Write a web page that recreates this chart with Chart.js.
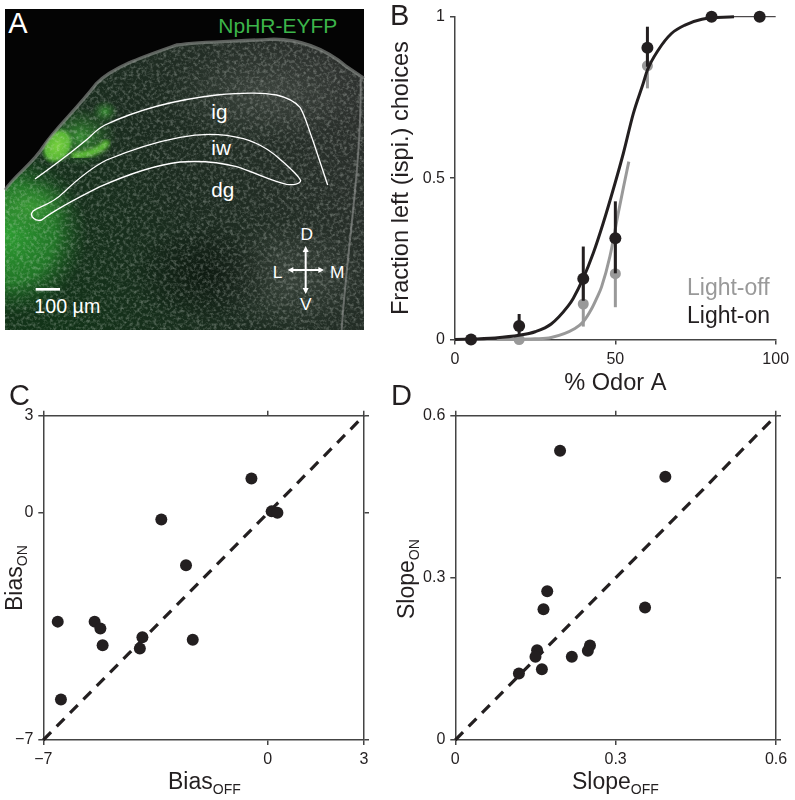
<!DOCTYPE html>
<html>
<head>
<meta charset="utf-8">
<script src="https://cdn.jsdelivr.net/npm/chart.js@4"></script>
<style>
  html, body { margin: 0; background: #fff; }
  body { position: relative; width: 795px; height: 800px; overflow: hidden; font-family: "Liberation Sans", Arial, sans-serif; color: #231f20; }
  canvas { position: absolute; }
  svg { position: absolute; left: 0; top: 0; }
  .lbl { position: absolute; white-space: nowrap; line-height: 1; }
  .letter { font-size: 29px; }
  .title { font-size: 23px; }
  .title sub { font-size: 14px; vertical-align: -5px; line-height: 0; }
  .rot { transform-origin: 0 0; transform: rotate(-90deg); }
</style>
</head>
<body>

<!-- panel A, coordinates are 3x page pixels -->
<svg width="390" height="340" viewBox="0 0 1170 1020" font-family="Liberation Sans, Arial, sans-serif">
  <defs>
    <clipPath id="tissue"><path d="M15,570 C50,520 100,490 130,440 C170,380 220,340 290,250 C340,200 430,170 530,135 C600,125 680,125 810,118 C900,115 980,150 1040,200 L1092,235 L1092,990 L15,990 Z"/></clipPath>
    <linearGradient id="base" gradientUnits="userSpaceOnUse" x1="100" y1="800" x2="1050" y2="300">
      <stop offset="0" stop-color="#123318"/>
      <stop offset=".45" stop-color="#1b2b1f"/>
      <stop offset="1" stop-color="#2c302d"/>
    </linearGradient>
    <radialGradient id="g1" gradientUnits="userSpaceOnUse" cx="15" cy="700" r="250">
      <stop offset="0" stop-color="#2fa533" stop-opacity=".95"/>
      <stop offset=".6" stop-color="#278c2c" stop-opacity=".75"/>
      <stop offset="1" stop-color="#1c5a22" stop-opacity="0"/>
    </radialGradient>
    <radialGradient id="g2">
      <stop offset="0" stop-color="#78d23e"/>
      <stop offset=".7" stop-color="#5cbc36" stop-opacity=".95"/>
      <stop offset="1" stop-color="#3d9a30" stop-opacity="0"/>
    </radialGradient>
    <radialGradient id="g3">
      <stop offset="0" stop-color="#3c9c35" stop-opacity=".85"/>
      <stop offset="1" stop-color="#2c7a2c" stop-opacity="0"/>
    </radialGradient>
    <radialGradient id="dark">
      <stop offset="0" stop-color="#060f08" stop-opacity=".6"/>
      <stop offset="1" stop-color="#060f08" stop-opacity="0"/>
    </radialGradient>
    <radialGradient id="pale">
      <stop offset="0" stop-color="#70756f" stop-opacity=".3"/>
      <stop offset="1" stop-color="#70756f" stop-opacity="0"/>
    </radialGradient>
    <filter id="soft"><feGaussianBlur stdDeviation="7"/></filter>
    <filter id="speckle" x="0" y="0" width="100%" height="100%">
      <feTurbulence type="fractalNoise" baseFrequency=".1" numOctaves="3" seed="7"/>
      <feColorMatrix type="matrix" values="0 0 0 0 .8  0 0 0 0 .85  0 0 0 0 .8  2.6 0 0 0 -1.15"/>
    </filter>
  </defs>
  <rect x="15" y="27" width="1077" height="963" fill="#040404"/>
  <g clip-path="url(#tissue)">
    <rect x="15" y="27" width="1077" height="963" fill="url(#base)"/>
    <ellipse cx="860" cy="830" rx="240" ry="170" fill="url(#pale)"/>
    <ellipse cx="800" cy="280" rx="300" ry="150" fill="url(#pale)"/>
    <ellipse cx="620" cy="820" rx="230" ry="150" fill="url(#dark)"/>
    <rect x="15" y="400" width="400" height="590" fill="url(#g1)"/>
    <ellipse cx="90" cy="620" rx="130" ry="85" fill="url(#g3)"/>
    <ellipse cx="240" cy="410" rx="110" ry="90" fill="url(#g3)"/>
    <ellipse cx="315" cy="335" rx="40" ry="35" fill="url(#g3)"/>
    <ellipse cx="172" cy="438" rx="46" ry="60" fill="url(#g2)" transform="rotate(30 172 438)"/>
    <path d="M215,468 C260,465 310,452 322,422" fill="none" stroke="#62c438" stroke-width="20" filter="url(#soft)"/>
    <rect x="15" y="27" width="1077" height="963" filter="url(#speckle)" opacity=".3"/>
  </g>
  <path d="M15,570 C50,520 100,490 130,440 C170,380 220,340 290,250 C340,200 430,170 530,135 C600,125 680,125 810,118 C900,115 980,150 1040,200 L1092,235" fill="none" stroke="#8b8f8b" stroke-width="10" opacity=".65"/>
  <path d="M1082,235 C1085,500 1040,750 1025,990" fill="none" stroke="#9a9d9a" stroke-width="6" opacity=".55"/>

  <g fill="none" stroke="#fff" stroke-width="4">
    <path d="M105,537 C170,490 230,445 270,410 C285,395 295,385 315,375 C400,335 520,300 650,285 C720,278 790,278 830,285 C860,292 885,305 900,322 C915,345 925,385 940,425 L983,555"/>
    <path d="M107,628 C135,615 165,605 190,578 C225,545 270,505 320,480 C380,455 470,425 540,412 C600,400 670,400 730,416 C780,430 810,450 840,478 C865,500 895,525 902,542 C900,552 880,556 860,553 C820,545 770,520 710,500 C660,487 600,482 540,486 C470,494 380,525 300,560 C240,590 170,625 125,660 C105,665 92,650 95,640 C97,634 102,630 107,628 Z"/>
  </g>

  <g fill="#fff" font-size="62">
    <text x="634" y="358">ig</text>
    <text x="634" y="465">iw</text>
    <text x="634" y="590">dg</text>
  </g>
  <text x="25" y="100" fill="#fff" font-size="87">A</text>
  <text x="655" y="100" fill="#3cb54a" font-size="63">NpHR-EYFP</text>

  <g fill="#fff" font-size="52" text-anchor="middle">
    <text x="920" y="720">D</text>
    <text x="833" y="833">L</text>
    <text x="1012" y="833">M</text>
    <text x="917" y="930">V</text>
  </g>
  <g stroke="#fff" stroke-width="6" fill="#fff">
    <line x1="875" y1="810" x2="960" y2="810"/>
    <line x1="917" y1="750" x2="917" y2="870"/>
    <path d="M863,810 L880,801 L880,819 Z" stroke="none"/>
    <path d="M972,810 L955,801 L955,819 Z" stroke="none"/>
    <path d="M917,738 L908,756 L926,756 Z" stroke="none"/>
    <path d="M917,882 L908,864 L926,864 Z" stroke="none"/>
  </g>
  <rect x="107" y="864" width="73" height="8" fill="#fff"/>
  <text x="103" y="938" fill="#fff" font-size="59">100 µm</text>
</svg>

<canvas id="chartB" width="410" height="400" style="left:385px;top:0"></canvas>
<canvas id="chartC" width="390" height="420" style="left:0;top:380px"></canvas>
<canvas id="chartD" width="405" height="420" style="left:390px;top:380px"></canvas>

<div class="lbl letter" style="left:390px;top:1px">B</div>
<div class="lbl letter" style="left:9px;top:381px">C</div>
<div class="lbl letter" style="left:391px;top:381px">D</div>

<div class="lbl title" style="left:687px;top:276px;color:#999">Light-off</div>
<div class="lbl title" style="left:687px;top:304px">Light-on</div>

<div class="lbl title" style="left:168px;top:770px">Bias<sub>OFF</sub></div>
<div class="lbl title rot" style="left:3px;top:611px">Bias<sub>ON</sub></div>
<div class="lbl title" style="left:572px;top:770px">Slope<sub>OFF</sub></div>
<div class="lbl title rot" style="left:395px;top:619px">Slope<sub>ON</sub></div>

<script>
// panel B
const odorOn = [5, 20, 40, 50, 60, 80, 95];
const fracOn = [0, 0.042, 0.188, 0.314, 0.904, 1, 1];
const onLow = [null, 0.013, 0.12, 0.205, 0.845, null, null];
const onHigh = [null, 0.079, 0.288, 0.428, 0.969, null, null];

const odorOff = [20, 40, 50, 60];
const fracOff = [0, 0.11, 0.204, 0.848];
const offLow = [null, 0.04, 0.10, 0.778];
const offHigh = [null, 0.18, 0.31, 0.90];

const curveOnX = [0, 12.5, 20, 25, 30, 35.3, 36.9, 40, 43.1, 46.2, 49.9, 52.5, 55.6, 58.7, 60, 63.4, 67.5, 71.7, 77, 87];
const curveOnY = [0, 0.005, 0.013, 0.024, 0.048, 0.104, 0.128, 0.19, 0.267, 0.36, 0.484, 0.577, 0.70, 0.794, 0.835, 0.897, 0.948, 0.974, 0.992, 1];
const curveOffX = [13, 25, 30, 37.4, 40, 42.6, 44.2, 45.7, 48.3, 50.9, 52.5, 54.2];
const curveOffY = [0, 0.002, 0.006, 0.034, 0.055, 0.095, 0.128, 0.163, 0.257, 0.391, 0.47, 0.551];
const tailX = [87, 100];
const tailY = [1, 1];

const ticksBX = [0, 50, 100];
const ticksBY = [0, 0.5, 1];

// panel C
const biasOff = [-6.55, -6.45, -5.40, -5.22, -5.15, -3.99, -3.91, -3.32, -2.55, -2.34, -0.51, 0.12, 0.30];
const biasOn = [-3.35, -5.75, -3.35, -3.56, -4.08, -4.18, -3.83, -0.20, -1.61, -3.91, 1.06, 0.05, 0.01];
const ticksC = [-7, 0, 3];

// panel D
const slopeOff = [0.196, 0.393, 0.172, 0.165, 0.355, 0.252, 0.248, 0.218, 0.153, 0.150, 0.162, 0.119];
const slopeOn = [0.535, 0.487, 0.275, 0.242, 0.245, 0.175, 0.165, 0.154, 0.166, 0.154, 0.131, 0.123];
const ticksD = [0, 0.3, 0.6];

const ink = '#231f20';
const axisColor = '#444';
const grey = '#999';

const pairs = (xs, ys) => xs.map((x, i) => ({ x: x, y: ys[i] }));
const fmt = v => String(v).replace('-', '\u2212');

function dots(data, color, r) {
    return { data: data, showLine: false, pointRadius: r, pointBackgroundColor: color, pointBorderWidth: 0, clip: false };
}
function line(data, color, w, extra) {
    return Object.assign({ data: data, showLine: true, pointRadius: 0, borderColor: color, borderWidth: w, cubicInterpolationMode: 'monotone', clip: false }, extra);
}
function errorBars(xs, low, high, color) {
    return xs.map((x, i) => low[i] === null ? null : line([{ x: x, y: low[i] }, { x: x, y: high[i] }], color, 3))
        .filter(Boolean);
}

// scale with fixed size so the plot box lands where it should
function axis(min, max, ticks, size, horizontal, labels) {
    return {
        type: 'linear',
        min: min,
        max: max,
        border: { color: axisColor, width: 1.5 },
        grid: { drawOnChartArea: false, color: axisColor, lineWidth: 1.5, tickLength: 5 },
        ticks: {
            display: labels,
            autoSkip: false,
            maxRotation: 0,
            padding: 5,
            color: ink,
            font: { family: '"Liberation Sans", Arial, sans-serif', size: 16 },
            callback: fmt
        },
        afterBuildTicks: s => { s.ticks = ticks.map(v => ({ value: v })); },
        afterFit: s => { if (horizontal) s.height = size; else s.width = size; }
    };
}

function makeChart(id, datasets, scales, padding) {
    return new Chart(document.getElementById(id), {
        type: 'scatter',
        data: { datasets: datasets },
        options: {
            responsive: false,
            animation: false,
            layout: { padding: padding },
            plugins: { legend: { display: false }, tooltip: { enabled: false } },
            scales: scales
        }
    });
}

const titleFont = { family: '"Liberation Sans", Arial, sans-serif', size: 23.6 };

const scalesB = {
    x: axis(0, 100, ticksBX, 60.5, true, true),
    y: axis(0, 1, ticksBY, 70, false, true)
};
scalesB.x.title = { display: true, text: '% Odor A', color: ink, font: titleFont, padding: { top: 0, bottom: 2 } };
scalesB.y.title = { display: true, text: 'Fraction left (ispi.) choices', color: ink, font: titleFont, padding: 2 };

makeChart('chartB', [
    dots(pairs(odorOn, fracOn), ink, 6),
    ...errorBars(odorOn, onLow, onHigh, ink),
    line(pairs(curveOnX, curveOnY), ink, 3),
    line(pairs(tailX, tailY), ink, 1),
    dots(pairs(odorOff, fracOff), grey, 5.5),
    ...errorBars(odorOff, offLow, offHigh, grey),
    line(pairs(curveOffX, curveOffY), grey, 3)
], scalesB, { left: 0, top: 16.7, right: 19.3, bottom: 0 });

function box(min, max, ticks, left, xHeight) {
    return {
        x: axis(min, max, ticks, xHeight, true, true),
        y: axis(min, max, ticks, left, false, true),
        x2: Object.assign(axis(min, max, ticks, 5, true, false), { position: 'top' }),
        y2: Object.assign(axis(min, max, ticks, 5, false, false), { position: 'right' })
    };
}
function diagonal(min, max) {
    return line([{ x: min, y: min }, { x: max, y: max }], ink, 3.2, { borderDash: [11, 8] });
}

makeChart('chartC', [
    dots(pairs(biasOff, biasOn), ink, 6),
    diagonal(ticksC[0], ticksC[2])
], box(ticksC[0], ticksC[2], ticksC, 43.3, 60), { left: 0, top: 30.7, right: 21, bottom: 0 });

makeChart('chartD', [
    dots(pairs(slopeOff, slopeOn), ink, 6),
    diagonal(ticksD[0], ticksD[2])
], box(ticksD[0], ticksD[2], ticksD, 65.3, 60), { left: 0, top: 30.7, right: 14, bottom: 0 });
</script>
</body>
</html>
